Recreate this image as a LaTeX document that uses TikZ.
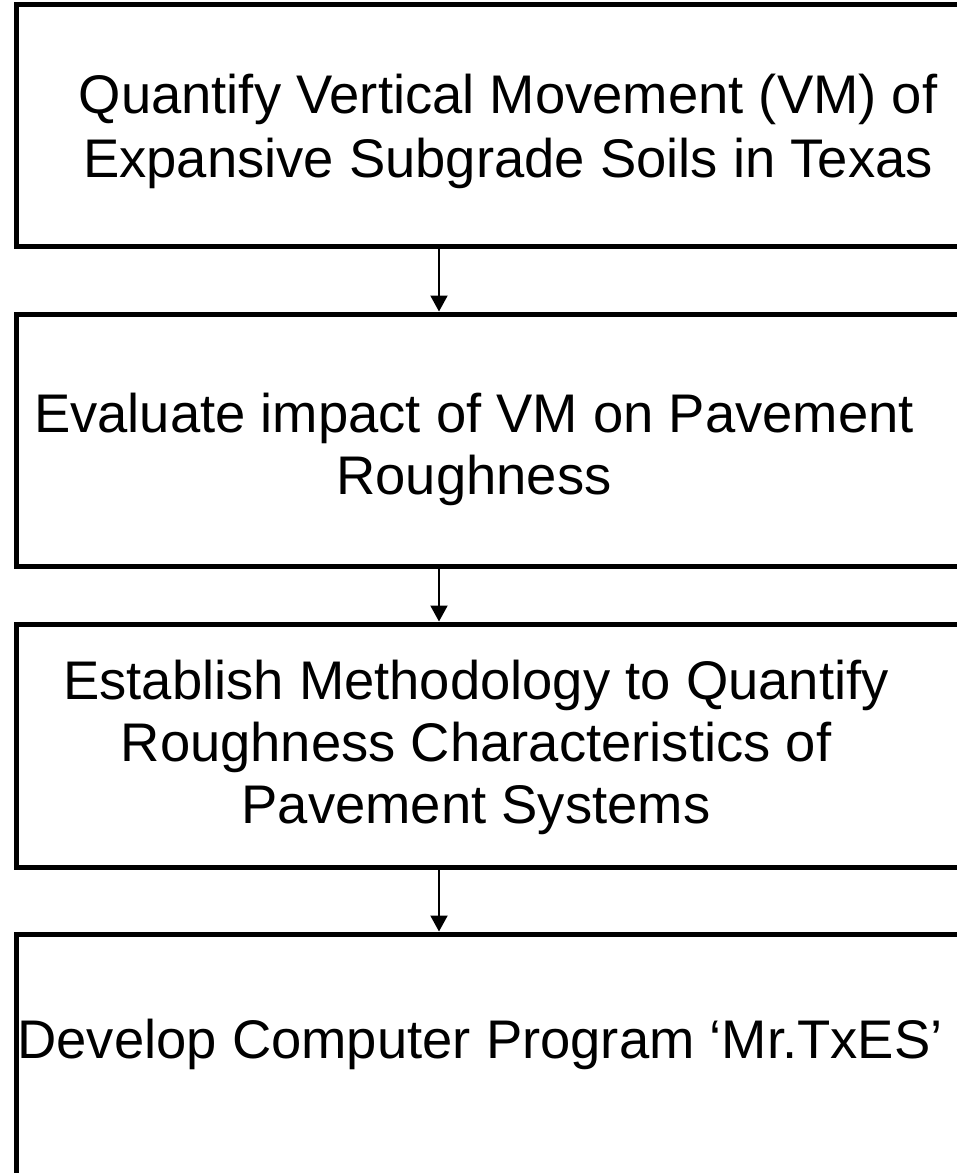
\documentclass[tikz,border=0pt]{standalone}
\usepackage{fontspec}
\setmainfont{Liberation Sans}
\usetikzlibrary{arrows.meta}
\tikzset{
  stagebox/.style={draw=black, line width=5pt, fill=none, rectangle, inner sep=0pt},
  stagetext/.style={anchor=base, inner sep=0pt, font=\fontsize{54.4}{64}\selectfont},
  flowarrow/.style={draw=black, line width=2pt, -{Triangle[width=17pt,length=16pt]}}
}
\begin{document}
\begin{tikzpicture}[x=1pt, y=-1pt]
  \useasboundingbox (0,0) rectangle (957,1173);
  \clip (0,0) rectangle (957,1173);

  % stage boxes (right side runs past the page edge)
  \node[stagebox, minimum width=984pt, minimum height=241.5pt] (b1) at (508,125.25) {};
  \node[stagebox, minimum width=984pt, minimum height=252pt]   (b2) at (508,440) {};
  \node[stagebox, minimum width=984pt, minimum height=243pt]   (b3) at (508,745.5) {};
  \node[stagebox, minimum width=984pt, minimum height=316pt]   (b4) at (508,1092) {};

  % stage labels
  \node[stagetext] (t1a) at (508,113) {Quantify Vertical Movement (VM) of};
  \node[stagetext] (t1b) at (508,177) {Expansive Subgrade Soils in Texas};
  \node[stagetext] (t2a) at (474,432) {Evaluate impact of VM on Pavement};
  \node[stagetext] (t2b) at (474,494) {Roughness};
  \node[stagetext] (t3a) at (476,699) {Establish Methodology to Quantify};
  \node[stagetext] (t3b) at (476,761) {Roughness Characteristics of};
  \node[stagetext] (t3c) at (476,823) {Pavement Systems};
  \node[stagetext] (t4a) at (480,1058) {Develop Computer Program ‘Mr.TxES’};

  % connectors
  \coordinate (ax) at (439,0);
  \draw[flowarrow] (b1.south -| ax) -- (b2.north -| ax);
  \draw[flowarrow] (b2.south -| ax) -- (b3.north -| ax);
  \draw[flowarrow] (b3.south -| ax) -- (b4.north -| ax);
\end{tikzpicture}
\end{document}
